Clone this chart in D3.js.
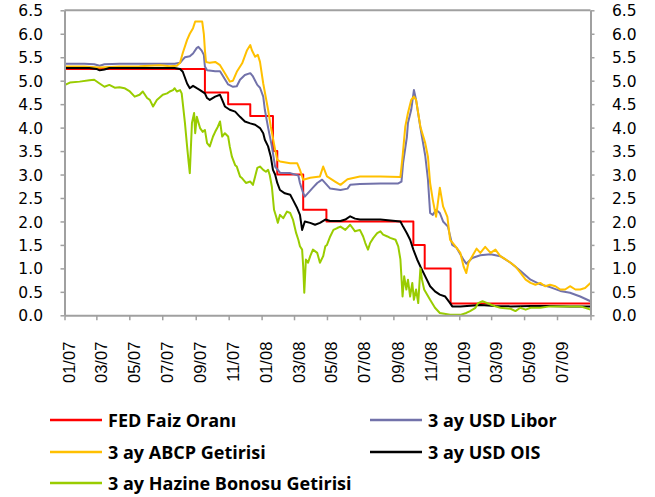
<!DOCTYPE html>
<html>
<head>
<meta charset="utf-8">
<script src="https://cdn.jsdelivr.net/npm/d3@7/dist/d3.min.js"></script>
<style>
  html, body { margin: 0; padding: 0; background: #fff; }
  svg { display: block; }
</style>
</head>
<body>
<svg id="chart" width="655" height="497"></svg>
<script>
// Fed policy rate (step changes)
const fedRate = [
  ["2007-01-02",5.25],["2007-09-18",4.75],["2007-10-31",4.5],["2007-12-11",4.25],
  ["2008-01-22",3.5],["2008-01-30",3.0],["2008-03-18",2.25],["2008-04-30",2.0],
  ["2008-10-08",1.5],["2008-10-29",1.0],["2008-12-16",0.25],["2009-09-01",0.25]
];

// 3-month USD Libor
const libor = [
  ["2007-01-02",5.36],["2007-02-07",5.36],["2007-02-25",5.35],["2007-03-07",5.32],["2007-03-16",5.35],
  ["2007-04-13",5.36],["2007-05-20",5.36],["2007-06-27",5.36],["2007-07-24",5.36],["2007-08-03",5.38],
  ["2007-08-08",5.45],["2007-08-12",5.5],["2007-08-21",5.52],["2007-08-27",5.58],["2007-09-03",5.7],
  ["2007-09-06",5.72],["2007-09-12",5.64],["2007-09-16",5.55],["2007-09-18",5.3],["2007-09-22",5.22],
  ["2007-10-07",5.2],["2007-10-16",5.2],["2007-10-31",4.92],["2007-11-09",4.87],["2007-11-16",4.88],
  ["2007-11-22",5.02],["2007-12-01",5.12],["2007-12-11",5.16],["2007-12-16",5.09],["2007-12-24",4.91],
  ["2007-12-29",4.85],["2008-01-04",4.66],["2008-01-07",4.38],["2008-01-13",4.0],["2008-01-20",3.6],
  ["2008-01-26",3.17],["2008-02-04",3.04],["2008-02-23",3.03],["2008-03-09",2.98],["2008-03-12",2.82],
  ["2008-03-18",2.6],["2008-03-21",2.53],["2008-04-05",2.72],["2008-04-13",2.82],["2008-04-22",2.89],
  ["2008-05-07",2.7],["2008-05-26",2.67],["2008-06-08",2.7],["2008-06-13",2.78],["2008-07-01",2.8],
  ["2008-08-08",2.81],["2008-09-10",2.81],["2008-09-16",2.85],["2008-09-19",3.25],["2008-09-26",3.8],
  ["2008-09-28",4.1],["2008-10-04",4.38],["2008-10-09",4.8],["2008-10-13",4.59],["2008-10-21",4.0],
  ["2008-10-30",3.4],["2008-11-04",2.89],["2008-11-08",2.18],["2008-11-13",2.14],["2008-11-19",2.25],
  ["2008-11-26",2.18],["2008-12-02",2.0],["2008-12-11",1.89],["2008-12-19",1.5],["2008-12-27",1.44],
  ["2009-01-09",1.18],["2009-01-14",1.1],["2009-01-25",1.22],["2009-02-09",1.28],["2009-02-28",1.3],
  ["2009-03-18",1.26],["2009-04-06",1.12],["2009-04-24",0.95],["2009-05-13",0.76],["2009-05-31",0.66],
  ["2009-06-18",0.6],["2009-07-07",0.52],["2009-07-25",0.48],["2009-08-13",0.4],["2009-09-01",0.3]
];

// 3-month ABCP yield
const abcp = [
  ["2007-01-02",5.3],["2007-02-07",5.3],["2007-03-07",5.28],["2007-04-13",5.3],["2007-05-20",5.31],
  ["2007-06-27",5.33],["2007-07-15",5.31],["2007-07-28",5.32],["2007-08-03",5.38],["2007-08-08",5.59],
  ["2007-08-16",5.87],["2007-08-21",6.0],["2007-08-27",6.12],["2007-08-31",6.26],["2007-09-13",6.26],
  ["2007-09-16",6.0],["2007-09-18",5.65],["2007-09-20",5.4],["2007-09-27",5.38],["2007-10-07",5.4],
  ["2007-10-16",5.33],["2007-10-25",5.16],["2007-11-03",4.98],["2007-11-09",5.0],["2007-11-16",5.19],
  ["2007-11-26",5.37],["2007-12-05",5.65],["2007-12-11",5.76],["2007-12-14",5.65],["2007-12-20",5.51],
  ["2007-12-25",5.55],["2007-12-29",5.4],["2008-01-04",4.94],["2008-01-13",4.38],["2008-01-18",4.02],
  ["2008-01-26",3.53],["2008-01-30",3.31],["2008-02-04",3.28],["2008-02-23",3.24],["2008-03-07",3.24],
  ["2008-03-12",3.1],["2008-03-18",2.89],["2008-03-31",2.93],["2008-04-18",2.96],["2008-04-24",3.17],
  ["2008-05-01",2.96],["2008-05-16",2.85],["2008-05-26",2.78],["2008-06-08",2.9],["2008-07-01",2.96],
  ["2008-08-08",2.96],["2008-09-14",2.95],["2008-09-18",3.38],["2008-09-23",4.02],["2008-09-28",4.31],
  ["2008-10-04",4.59],["2008-10-09",4.66],["2008-10-13",4.59],["2008-10-21",4.02],["2008-10-30",3.67],
  ["2008-11-04",3.38],["2008-11-08",2.82],["2008-11-13",2.46],["2008-11-19",2.1],["2008-11-26",2.72],
  ["2008-12-02",2.32],["2008-12-10",2.1],["2008-12-15",1.61],["2008-12-25",1.47],["2009-01-03",1.33],
  ["2009-01-09",1.04],["2009-01-14",0.9],["2009-01-18",1.12],["2009-01-25",1.26],["2009-02-02",1.42],
  ["2009-02-09",1.33],["2009-02-18",1.46],["2009-02-28",1.33],["2009-03-09",1.4],["2009-03-18",1.26],
  ["2009-03-28",1.19],["2009-04-06",1.12],["2009-04-15",1.04],["2009-04-24",0.91],["2009-05-04",0.76],
  ["2009-05-13",0.69],["2009-05-22",0.65],["2009-05-31",0.69],["2009-06-09",0.62],["2009-06-18",0.65],
  ["2009-06-28",0.62],["2009-07-07",0.55],["2009-07-16",0.55],["2009-07-25",0.62],["2009-08-04",0.55],
  ["2009-08-13",0.55],["2009-08-22",0.58],["2009-09-01",0.69]
];

// 3-month USD OIS
const ois = [
  ["2007-01-02",5.27],["2007-02-16",5.27],["2007-03-01",5.25],["2007-03-07",5.22],["2007-03-16",5.24],
  ["2007-03-25",5.27],["2007-05-20",5.27],["2007-07-24",5.27],["2007-08-03",5.25],["2007-08-08",5.19],
  ["2007-08-16",4.94],["2007-08-21",4.84],["2007-08-27",4.89],["2007-09-03",4.84],["2007-09-09",4.8],
  ["2007-09-18",4.73],["2007-09-22",4.63],["2007-09-27",4.59],["2007-10-07",4.66],["2007-10-16",4.7],
  ["2007-10-20",4.59],["2007-10-25",4.45],["2007-11-03",4.38],["2007-11-13",4.34],["2007-11-22",4.23],
  ["2007-12-01",4.13],["2007-12-11",4.09],["2007-12-20",4.06],["2007-12-29",3.99],["2008-01-04",3.88],
  ["2008-01-07",3.74],["2008-01-13",3.6],["2008-01-18",3.38],["2008-01-22",3.1],["2008-01-26",3.0],
  ["2008-01-30",2.82],["2008-02-04",2.67],["2008-02-13",2.6],["2008-02-23",2.57],["2008-02-28",2.46],
  ["2008-03-07",2.28],["2008-03-12",2.14],["2008-03-16",1.82],["2008-03-21",2.0],["2008-03-31",1.97],
  ["2008-04-09",1.93],["2008-04-18",1.97],["2008-04-28",2.04],["2008-05-07",2.01],["2008-05-26",2.01],
  ["2008-06-04",2.04],["2008-06-13",2.11],["2008-06-22",2.06],["2008-07-01",2.04],["2008-08-08",2.04],
  ["2008-09-14",2.0],["2008-09-19",1.89],["2008-09-26",1.75],["2008-10-02",1.61],["2008-10-08",1.4],
  ["2008-10-15",1.19],["2008-10-21",1.04],["2008-10-30",0.83],["2008-11-08",0.62],["2008-11-17",0.51],
  ["2008-11-26",0.44],["2008-12-06",0.4],["2008-12-15",0.26],["2008-12-19",0.19],["2009-01-03",0.19],
  ["2009-02-09",0.22],["2009-03-09",0.2],["2009-04-06",0.19],["2009-05-13",0.2],["2009-06-18",0.2],
  ["2009-07-25",0.19],["2009-09-01",0.19]
];

// 3-month Treasury bill yield
const tbill = [
  ["2007-01-02",4.91],["2007-01-11",4.96],["2007-01-29",4.98],["2007-02-16",5.01],["2007-02-25",5.02],
  ["2007-03-07",4.94],["2007-03-16",4.87],["2007-03-25",4.91],["2007-04-04",4.85],["2007-04-13",4.86],
  ["2007-04-22",4.84],["2007-05-02",4.77],["2007-05-11",4.66],["2007-05-20",4.7],["2007-05-26",4.77],
  ["2007-06-03",4.63],["2007-06-08",4.59],["2007-06-14",4.45],["2007-06-21",4.59],["2007-07-02",4.7],
  ["2007-07-10",4.73],["2007-07-15",4.77],["2007-07-21",4.8],["2007-07-24",4.84],["2007-07-28",4.77],
  ["2007-08-03",4.8],["2007-08-06",4.73],["2007-08-08",4.52],["2007-08-12",4.1],["2007-08-16",3.6],
  ["2007-08-19",3.25],["2007-08-21",3.03],["2007-08-25",4.1],["2007-08-29",4.31],["2007-08-31",3.88],
  ["2007-09-03",4.23],["2007-09-09",3.99],["2007-09-14",3.91],["2007-09-18",3.95],["2007-09-22",3.67],
  ["2007-09-27",3.6],["2007-10-03",3.81],["2007-10-07",3.91],["2007-10-12",4.02],["2007-10-16",4.13],
  ["2007-10-20",3.81],["2007-10-25",3.88],["2007-10-31",3.81],["2007-11-03",3.6],["2007-11-07",3.38],
  ["2007-11-13",3.2],["2007-11-16",3.17],["2007-11-18",3.1],["2007-11-22",2.96],["2007-11-26",2.92],
  ["2007-12-03",2.82],["2007-12-11",2.85],["2007-12-16",2.78],["2007-12-20",2.96],["2007-12-24",3.14],
  ["2007-12-29",3.17],["2008-01-04",3.1],["2008-01-09",3.06],["2008-01-13",3.1],["2008-01-16",2.99],
  ["2008-01-20",2.74],["2008-01-24",2.25],["2008-01-28",2.1],["2008-01-31",1.97],["2008-02-04",2.14],
  ["2008-02-10",2.07],["2008-02-17",2.21],["2008-02-23",2.18],["2008-02-28",2.04],["2008-03-05",1.75],
  ["2008-03-09",1.61],["2008-03-12",1.47],["2008-03-16",1.4],["2008-03-18",1.04],["2008-03-20",0.48],
  ["2008-03-23",1.19],["2008-03-27",1.12],["2008-03-31",1.26],["2008-04-05",1.4],["2008-04-13",1.33],
  ["2008-04-18",1.12],["2008-04-24",1.26],["2008-04-28",1.47],["2008-05-01",1.5],["2008-05-07",1.68],
  ["2008-05-13",1.82],["2008-05-20",1.86],["2008-05-26",1.89],["2008-06-04",1.82],["2008-06-13",1.93],
  ["2008-06-22",1.79],["2008-07-01",1.82],["2008-07-07",1.68],["2008-07-11",1.54],["2008-07-16",1.4],
  ["2008-07-20",1.54],["2008-07-26",1.65],["2008-08-02",1.75],["2008-08-08",1.79],["2008-08-13",1.72],
  ["2008-08-21",1.68],["2008-08-26",1.65],["2008-09-05",1.61],["2008-09-10",1.47],["2008-09-14",1.19],
  ["2008-09-18",0.4],["2008-09-21",0.83],["2008-09-25",0.55],["2008-09-28",0.76],["2008-10-02",0.4],
  ["2008-10-06",0.69],["2008-10-09",0.33],["2008-10-13",0.55],["2008-10-17",0.26],["2008-10-21",1.0],
  ["2008-10-24",0.76],["2008-10-28",0.55],["2008-11-08",0.33],["2008-11-17",0.16],["2008-11-26",0.05],
  ["2008-12-15",0.01],["2009-01-03",0.01],["2009-01-14",0.05],["2009-01-21",0.09],["2009-01-31",0.16],
  ["2009-02-05",0.26],["2009-02-13",0.3],["2009-02-22",0.26],["2009-02-28",0.23],["2009-03-09",0.19],
  ["2009-03-18",0.16],["2009-04-06",0.14],["2009-04-15",0.09],["2009-04-24",0.16],["2009-05-04",0.12],
  ["2009-05-13",0.16],["2009-05-31",0.16],["2009-06-18",0.19],["2009-07-07",0.19],["2009-07-25",0.19],
  ["2009-08-13",0.19],["2009-08-22",0.16],["2009-09-01",0.12]
];

// Axis ticks
const xTickDates = ["2007-01-01","2007-03-01","2007-05-01","2007-07-01","2007-09-01","2007-11-01",
  "2008-01-01","2008-03-01","2008-05-01","2008-07-01","2008-09-01","2008-11-01",
  "2009-01-01","2009-03-01","2009-05-01","2009-07-01","2009-09-01"];
const xTickLabels = ["01/07","03/07","05/07","07/07","09/07","11/07","01/08","03/08",
  "05/08","07/08","09/08","11/08","01/09","03/09","05/09","07/09"];
const yTicks = [0,0.5,1,1.5,2,2.5,3,3.5,4,4.5,5,5.5,6,6.5];

// Series names and colours (drawing order = legend order)
const seriesNames = ["FED Faiz Oranı","3 ay USD Libor","3 ay ABCP Getirisi","3 ay USD OIS","3 ay Hazine Bonosu Getirisi"];
const seriesColors = ["#ff0000","#7272aa","#ffc000","#000000","#99cc00"];

const parse = d3.timeParse("%Y-%m-%d");
const seriesData = [fedRate, libor, abcp, ois, tbill].map(s => s.map(([d, v]) => ({date: parse(d), value: v})));

const svg = d3.select("#chart");
const plotLeft = 64.5, plotRight = 590.5, plotTop = 10.3, plotBottom = 315.3;

const x = d3.scaleTime()
  .domain([parse("2007-01-01"), parse("2009-09-01")])
  .range([plotLeft, plotRight]);
const y = d3.scaleLinear().domain([0, 6.5]).range([plotBottom, plotTop]);

const axisColor = "#a0a0a0";

// Plot frame top edge
svg.append("line")
  .attr("x1", plotLeft).attr("x2", plotRight).attr("y1", plotTop).attr("y2", plotTop)
  .attr("stroke", axisColor).attr("stroke-width", 2);

// Series lines
const lineGen = d3.line().x(d => x(d.date)).y(d => y(d.value));
const stepGen = d3.line().x(d => x(d.date)).y(d => y(d.value)).curve(d3.curveStepAfter);

seriesData.forEach((data, i) => {
  svg.append("path")
    .datum(data)
    .attr("fill", "none")
    .attr("stroke", seriesColors[i])
    .attr("stroke-width", 2)
    .attr("stroke-linejoin", "round")
    .attr("d", i === 0 ? stepGen : lineGen);
});

// Axes
function styleAxis(g) {
  g.select(".domain").attr("stroke", axisColor).attr("stroke-width", 2);
  g.selectAll(".tick line").attr("stroke", axisColor).attr("stroke-width", 1.5);
  g.selectAll(".tick text").attr("fill", "#000");
}

const yFmt = d3.format(".1f");
svg.append("g")
  .attr("transform", `translate(${plotLeft},0)`)
  .call(d3.axisLeft(y).tickValues(yTicks).tickFormat(yFmt).tickSize(4).tickSizeOuter(0))
  .call(styleAxis)
  .call(g => g.selectAll(".tick text")
    .attr("x", -21.5).attr("dy", "0.36em")
    .style("font-family", "'DejaVu Sans', sans-serif").style("font-size", "15.5px"));

svg.append("g")
  .attr("transform", `translate(${plotRight},0)`)
  .call(d3.axisRight(y).tickValues(yTicks).tickFormat(yFmt).tickSize(4).tickSizeOuter(0))
  .call(styleAxis)
  .call(g => g.selectAll(".tick text")
    .attr("x", 21.5).attr("dy", "0.36em")
    .style("font-family", "'DejaVu Sans', sans-serif").style("font-size", "15.5px"));

svg.append("g")
  .attr("transform", `translate(0,${plotBottom})`)
  .call(d3.axisBottom(x)
    .tickValues(xTickDates.map(parse))
    .tickFormat((d, i) => xTickLabels[i] || "")
    .tickSize(5).tickSizeOuter(0))
  .call(styleAxis)
  .call(g => g.selectAll(".tick text")
    .attr("transform", "rotate(-90)")
    .attr("x", -26.4).attr("y", 10).attr("dy", 0)
    .attr("text-anchor", "end")
    .style("font-family", "'Liberation Sans', Arial, sans-serif").style("font-size", "16.5px"));

// Legend
const legendPos = [
  {x: 50, y: 420}, {x: 370, y: 420},
  {x: 50, y: 452}, {x: 370, y: 452},
  {x: 50, y: 483}
];
const legend = svg.append("g");
seriesNames.forEach((name, i) => {
  const p = legendPos[i];
  legend.append("line")
    .attr("x1", p.x).attr("x2", p.x + 52).attr("y1", p.y).attr("y2", p.y)
    .attr("stroke", seriesColors[i]).attr("stroke-width", 2.5);
  legend.append("text")
    .attr("x", p.x + 58).attr("y", p.y + 6.5)
    .style("font-family", "'Open Sans', sans-serif")
    .style("font-weight", "bold")
    .style("font-size", "18px")
    .attr("fill", "#000")
    .text(name);
});
</script>
</body>
</html>
